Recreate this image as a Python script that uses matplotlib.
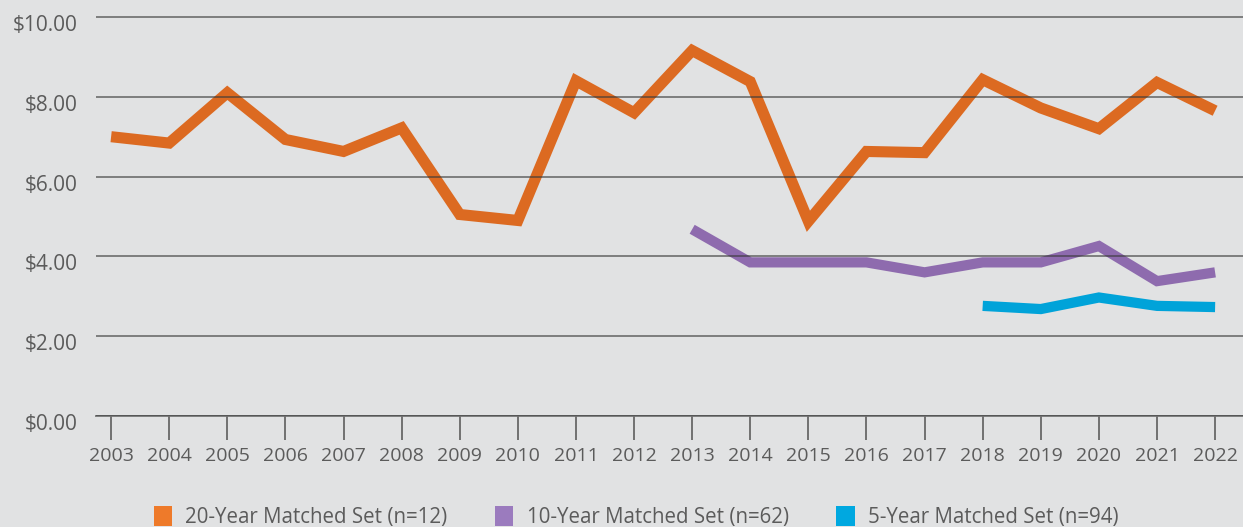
import matplotlib
matplotlib.use("Agg")
import matplotlib.pyplot as plt
import matplotlib.transforms as mtransforms
from matplotlib.patches import Patch

years = list(range(2003, 2023))
set20 = [7.00, 6.84, 8.10, 6.93, 6.63, 7.22, 5.05, 4.90, 8.40, 7.60,
         9.16, 8.38, 4.88, 6.63, 6.60, 8.43, 7.72, 7.20, 8.36, 7.65]
years10 = list(range(2013, 2023))
set10 = [4.68, 3.85, 3.85, 3.85, 3.60, 3.85, 3.85, 4.26, 3.38, 3.60]
years5 = list(range(2018, 2023))
set5 = [2.76, 2.68, 2.97, 2.76, 2.73]
yticks = [0, 2, 4, 6, 8, 10]
ytick_labels = ["$0.00", "$2.00", "$4.00", "$6.00", "$8.00", "$10.00"]
series_labels = ["20-Year Matched Set (n=12)", "10-Year Matched Set (n=62)",
                 "5-Year Matched Set (n=94)"]

c_orange = "#DC6A21"
c_purple = "#8E6BAE"
c_blue = "#00A3D9"
leg_orange = "#EE7A2A"
leg_purple = "#9B7BBE"
leg_blue = "#00A8E0"
bg = "#E1E2E3"
txt = "#5B5B5B"

plt.rcParams['font.family'] = ['Open Sans', 'DejaVu Sans']

fig = plt.figure(figsize=(12.43, 5.27), dpi=100, facecolor=bg)
ax = fig.add_axes([96/1243, 111/527, 1 - 96/1243, (416-13)/527])
ax.set_facecolor(bg)

lw = 8.0
kw = dict(solid_joinstyle='miter', solid_capstyle='butt', zorder=2)
ax.plot(years, set20, color=c_orange, lw=lw, **kw)
ax.plot(years10, set10, color=c_purple, lw=lw*0.92, **kw)
ax.plot(years5, set5, color=c_blue, lw=lw*0.92, **kw)

ax.set_ylim(0, 10.1)
ax.set_xlim(2002.74, 2022.48)
ax.set_yticks(yticks)
ax.set_yticklabels(ytick_labels)
ax.set_xticks(years)
ax.set_xticklabels([str(y) for y in years])

ax.set_axisbelow(False)
ax.yaxis.grid(True, color="#3A3A3A", alpha=0.6, lw=1.4)
for s in ['top', 'right', 'left']:
    ax.spines[s].set_visible(False)
ax.spines['bottom'].set_color("#3A3A3A")
ax.spines['bottom'].set_alpha(0.6)
ax.spines['bottom'].set_linewidth(1.4)

ax.tick_params(axis='y', length=0, pad=13, labelsize=15, labelcolor=txt)
ax.tick_params(axis='x', direction='out', length=17.5, width=1.4, color="#707070",
               pad=5, labelsize=14, labelcolor=txt)

offset = mtransforms.ScaledTranslation(0, -6/100, fig.dpi_scale_trans)
for lab in ax.get_yticklabels():
    lab.set_transform(lab.get_transform() + offset)

handles = [Patch(facecolor=c, edgecolor='none') for c in (leg_orange, leg_purple, leg_blue)]
leg = fig.legend(handles, series_labels, loc='center', ncol=3,
                 bbox_to_anchor=(636/1243, 1 - 517/527), frameon=False,
                 fontsize=14.8, handlelength=0.9, handleheight=1.15,
                 handletextpad=0.65, columnspacing=2.3, labelcolor=txt)

fig.savefig("out.png", dpi=100, facecolor=bg)
